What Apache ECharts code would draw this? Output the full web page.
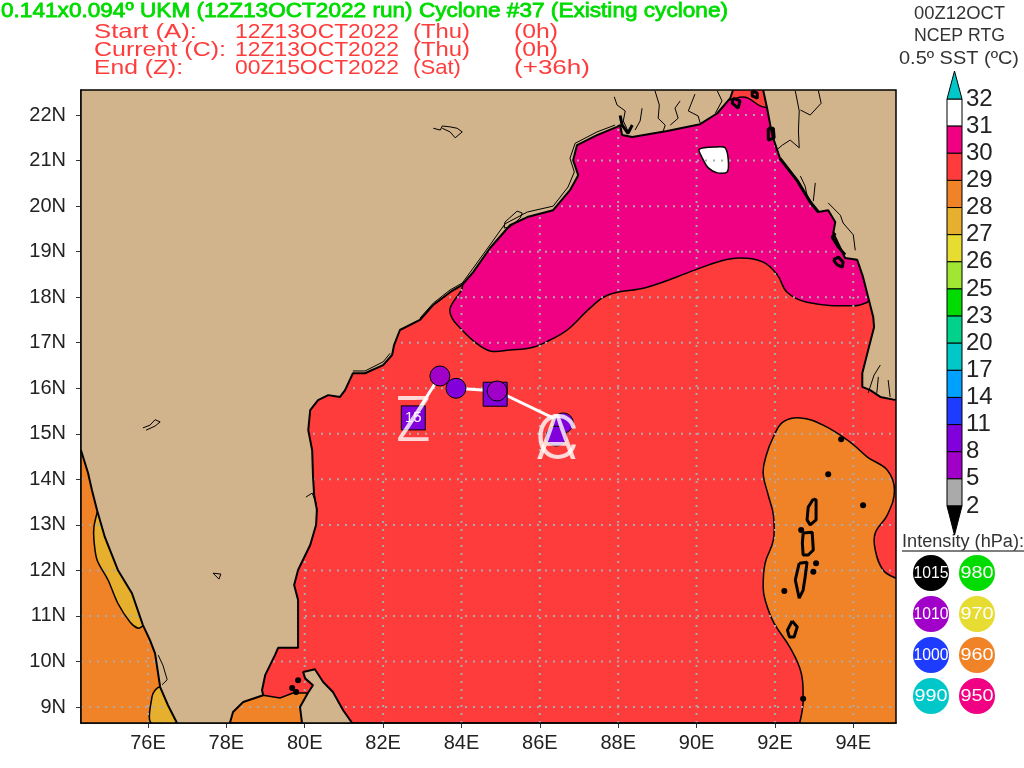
<!DOCTYPE html>
<html lang="en">
<head>
<meta charset="utf-8">
<title>Cyclone 37 UKM track over SST</title>
<script src="https://cdn.jsdelivr.net/npm/echarts@6/dist/echarts.min.js"></script>
<style>
  html, body { margin: 0; padding: 0; background: #fff; }
</style>
</head>
<body>
<div id="main" style="width:1024px;height:768px;"></div>
<script type="text/javascript">
// map axes
var lonMin = 74.29, lonMax = 95.09, latMin = 8.65, latMax = 22.55;
var lonTicks = [76, 78, 80, 82, 84, 86, 88, 90, 92, 94];
var latTicks = [9, 10, 11, 12, 13, 14, 15, 16, 17, 18, 19, 20, 21, 22];

// colour bar
var sstLabels = ['32', '31', '30', '29', '28', '27', '26', '25', '23', '20', '17', '14', '11', '8', '5', '2'];
var sstColors = ['#ffffff', '#f00082', '#ff3c3c', '#f08228', '#e6af2d', '#e6dc32', '#a0e632', '#00dc00',
                 '#00d28c', '#00c8c8', '#00a0ff', '#1e3cff', '#8200dc', '#a000c8', '#aaaaaa'];

// intensity legend
var legendLabels = ['1015', '1010', '1000', '990', '980', '970', '960', '950'];
var legendColors = ['#000000', '#a000c8', '#1e3cff', '#00c8c8', '#00dc00', '#e6dc32', '#f08228', '#f00082'];

// SST contour areas, [lon, lat]
var sst30 = [[84.02,18.27],[83.71,17.76],[83.76,17.54],[83.97,17.32],[84.35,17.01],[84.73,16.82],[85.24,16.84],
  [85.83,16.90],[86.26,17.06],[86.70,17.28],[87.28,17.76],[87.74,18.05],[88.74,18.22],[89.97,18.60],[90.60,18.79],
  [91.11,18.86],[91.70,18.77],[92.06,18.49],[92.31,18.11],[92.82,17.89],[94.00,17.81],[94.36,17.89],[94.43,17.98],
  [94.81,17.98],[94.81,22.15],[91.75,22.17],[91.24,22.39],[90.81,22.33],[90.09,22.33],[87.54,22.55],[84.22,20.13],[83.46,18.38]];
var sst31 = [[90.07,21.25],[90.53,21.30],[90.73,21.28],[90.81,21.01],[90.78,20.75],[90.53,20.73],[90.30,20.84],[90.15,21.05]];
var sst29East = [[92.72,8.0],[92.72,9.15],[92.67,9.75],[92.39,10.30],[91.96,10.87],[91.75,11.35],[91.70,11.63],[91.75,12.16],
  [91.96,12.67],[91.96,13.22],[91.83,13.65],[91.70,14.14],[91.78,14.53],[91.96,14.93],[92.21,15.26],[92.65,15.35],[93.23,15.19],
  [93.92,14.82],[94.36,14.49],[94.87,14.20],[95.05,13.76],[94.87,13.22],[94.56,12.82],[94.56,12.45],[94.76,12.01],[95.09,11.83],[96.2,11.5],[96.2,8.0]];
var sst29West = [[74.29,14.64],[74.78,14.64],[75.54,12.23],[76.69,10.03],[77.33,8.65],[74.29,8.65]];
var sst29Mannar = [[77.71,8.65],[77.97,9.15],[78.73,9.40],[78.94,9.26],[79.37,9.20],[79.70,9.31],[80.06,9.31],[80.26,8.65]];
var sst28West = [[74.70,13.26],[74.62,12.95],[74.62,12.67],[74.70,12.23],[74.98,11.79],[75.23,11.28],[75.54,10.87],[75.75,10.73],
  [75.87,10.78],[76.31,10.91],[75.28,13.10],[74.77,13.43]];
var sst28South = [[76.08,8.65],[76.10,9.22],[76.18,9.37],[76.31,9.44],[76.95,9.15],[76.95,8.65]];

// coastlines, [lon, lat]
var coastWest = [[74.29,14.64],[74.47,14.14],[74.57,13.76],[74.70,13.32],[74.90,12.73],[75.23,12.01],[75.59,11.50],[75.87,10.80],
  [76.05,10.47],[76.18,10.18],[76.31,9.44],[76.51,9.04],[76.74,8.65]];
var coastEastIndia = [[78.09,8.65],[78.17,8.89],[78.43,9.11],[78.94,9.26],[78.91,9.37],[78.99,9.70],[79.24,10.14],[79.32,10.30],
  [79.83,10.30],[79.83,11.35],[79.73,11.68],[79.83,12.01],[80.14,12.56],[80.29,13.00],[80.31,13.33],[80.24,13.66],[80.21,14.09],
  [80.19,14.64],[80.09,15.08],[80.14,15.52],[80.34,15.74],[80.60,15.85],[80.90,15.81],[81.03,15.96],[81.23,16.33],[81.54,16.33],
  [82.00,16.51],[82.23,16.73],[82.28,16.95],[82.43,17.28],[82.94,17.50],[83.28,17.83],[83.71,18.11],[84.02,18.27],[84.30,18.55],
  [84.73,19.08],[85.24,19.58],[85.68,19.76],[86.34,19.91],[86.77,20.35],[86.98,20.68],[86.85,21.01],[86.95,21.34],[87.46,21.56],
  [87.97,21.74],[88.05,21.78],[88.10,21.56],[88.36,21.52],[89.25,21.65],[90.09,21.80],[90.53,22.04],[90.86,22.37],[90.93,22.55]];
var coastMyanmar = [[91.70,22.55],[91.80,22.15],[91.93,21.56],[92.13,21.05],[92.57,20.56],[92.90,20.09],[93.11,19.87],[93.36,19.91],
  [93.54,19.65],[93.49,19.41],[93.79,18.86],[94.10,18.82],[94.25,18.44],[94.38,18.00],[94.51,17.56],[94.53,17.34],[94.38,16.84],
  [94.23,16.33],[94.23,16.03],[94.43,15.96],[94.69,15.81],[95.09,15.74]];
var sriLanka = [[79.93,8.65],[79.88,9.00],[80.08,9.31],[80.21,9.48],[80.01,9.63],[79.96,9.77],[80.26,9.83],[80.47,9.55],[80.72,9.33],
  [80.98,8.93],[81.21,8.65]];

// rivers, lakes and the second coast line, thin
var thinLines = [
  [[87.90,22.40],[87.97,22.22],[88.18,22.09],[88.13,21.87],[88.25,21.65]],
  [[88.61,22.15],[88.56,21.87],[88.43,21.67]],
  [[88.94,22.53],[89.05,22.22],[89.02,21.93],[89.20,21.78],[89.15,21.65]],
  [[89.58,22.31],[89.45,22.15],[89.53,21.93],[89.33,21.78]],
  [[89.96,22.46],[89.79,22.09],[90.04,21.98],[90.09,21.83]],
  [[90.53,22.53],[90.65,22.31],[90.48,22.04]],
  [[92.52,22.53],[92.62,22.09],[92.60,21.65],[92.62,21.28],[92.39,21.45],[92.19,21.34],[92.01,21.21]],
  [[93.11,22.53],[93.18,22.26],[92.90,22.00],[92.65,22.11]],
  [[92.65,20.66],[92.77,20.44],[92.82,20.24],[92.95,20.07]],
  [[93.03,20.51],[92.98,20.11]],
  [[93.36,20.07],[93.67,19.80],[93.74,19.63],[94.00,19.37],[94.05,19.03]],
  [[94.38,15.90],[94.53,16.29],[94.69,16.51]],
  [[94.64,16.25],[94.60,15.90]],
  [[94.89,16.18],[94.94,15.81]],
  [[85.42,19.89],[85.55,19.85],[85.50,19.74],[85.24,19.54],[85.09,19.52],[85.11,19.65],[85.42,19.89]],
  [[83.28,21.71],[83.46,21.67],[83.51,21.76],[83.71,21.74],[83.89,21.71],[84.02,21.63],[83.84,21.50],[83.71,21.63],[83.51,21.71]],
  [[77.66,11.94],[77.86,11.92],[77.81,11.81],[77.66,11.94]],
  [[75.87,15.13],[76.05,15.19],[76.18,15.31],[76.31,15.26],[76.18,15.17],[75.95,15.08]],
  [[80.03,13.61],[80.19,13.70],[80.29,13.48],[80.31,13.33]],
  [[76.26,10.14],[76.38,9.92],[76.49,9.60],[76.36,9.49]],
  [[82.94,17.54],[83.28,17.87],[83.71,18.16],[84.02,18.31],[84.30,18.64],[84.73,19.15],[85.11,19.61],[85.68,19.87],[86.34,20.00],
   [86.72,20.42],[86.88,20.75],[86.77,21.05],[86.90,21.38],[87.46,21.63],[87.92,21.78]],
  [[81.23,16.38],[81.54,16.38],[82.00,16.58],[82.18,16.77]]
];
// islands and delta blobs, heavy lines
var heavyLines = [
  [[92.98,13.57],[93.05,13.55],[93.05,13.11],[92.90,13.00],[92.82,13.11],[92.85,13.39],[92.98,13.57]],
  [[92.72,12.82],[92.95,12.84],[92.98,12.45],[92.85,12.34],[92.72,12.34],[92.70,12.60],[92.72,12.82]],
  [[92.62,12.16],[92.82,12.18],[92.77,11.85],[92.72,11.57],[92.62,11.39],[92.52,11.79],[92.62,12.16]],
  [[92.44,10.89],[92.57,10.76],[92.49,10.54],[92.37,10.54],[92.32,10.69],[92.44,10.89]],
  [[93.54,19.41],[93.46,19.32],[93.62,19.10],[93.79,18.93]],
  [[93.49,18.82],[93.62,18.88],[93.74,18.77],[93.72,18.66],[93.59,18.71],[93.49,18.82]],
  [[91.83,21.71],[91.96,21.71],[91.98,21.50],[91.83,21.45],[91.83,21.71]],
  [[90.93,22.37],[91.11,22.31],[91.06,22.15],[90.91,22.26],[90.93,22.37]],
  [[91.42,22.53],[91.55,22.48],[91.55,22.37],[91.42,22.42],[91.42,22.53]],
  [[88.05,21.99],[88.10,21.78],[88.25,21.60],[88.36,21.78]],
  [[92.13,21.05],[92.57,20.56],[92.90,20.09],[93.11,19.87]]
];
var islandLon = [92.67, 93.05, 92.98, 92.24, 93.69, 93.36, 94.25, 92.72, 79.83, 79.68, 79.78];
var islandLat = [12.89, 12.16, 11.97, 11.55, 14.88, 14.11, 13.43, 9.18, 9.59, 9.42, 9.33];

// cyclone track, oldest position last
var trackLon = [82.77, 83.45, 83.86, 84.91, 86.60, 86.42];
var trackLat = [15.35, 16.27, 16.00, 15.94, 15.24, 14.95];
var trackColors = ['#8200dc', '#a000c8', '#8200dc', '#a000c8', '#8200dc', '#8200dc'];
var squareLon = [82.77, 84.86];
var squareLat = [15.35, 15.87];
var squareLabels = ['15', ''];
var letterNames = ['C', 'A', 'Z'];
var letterLon = [86.44, 86.42, 82.77];
var letterLat = [14.85, 14.85, 15.26];

var thin = '"Liberation Sans"';
var chart = echarts.init(document.getElementById('main'));
var measure = document.createElement('canvas').getContext('2d');

// text squeezed or stretched to the width it has in the plot
function fitText(text, x, y, width, font, fill, stroke) {
    measure.font = font;
    return {
        type: 'text', x: x, y: y, z: 50, silent: true,
        scaleX: width / measure.measureText(text).width,
        style: {text: text, font: font, fill: fill, stroke: stroke || null, lineWidth: stroke ? 0.8 : 0,
                align: 'left', verticalAlign: 'middle'}
    };
}

function polygon(points, fill, lineWidth, z, smooth) {
    return {
        type: 'custom', z: z, clip: true, silent: true,
        data: [points[0]],
        renderItem: function (params, api) {
            return {
                type: 'polygon',
                shape: {points: points.map(function (p) { return api.coord(p); }), smooth: smooth || 0},
                style: {fill: fill, stroke: lineWidth ? '#000' : null, lineWidth: lineWidth}
            };
        }
    };
}

function line(points, width, color, z, dash) {
    return {
        type: 'line', z: z, silent: true, symbol: 'none', clip: true, data: points,
        lineStyle: {width: width, color: color, type: dash || 'solid', cap: 'butt'}
    };
}

function zipPoints(xs, ys) {
    return xs.map(function (x, i) { return [x, ys[i]]; });
}

var land = coastWest.concat(coastEastIndia, coastMyanmar, [[lonMax, latMax], [lonMin, latMax]]);
var series = [
    polygon(sst29West, '#f08228', 0, 1),
    polygon(sst29Mannar, '#f08228', 1.5, 1),
    polygon(sst28West, '#e6af2d', 1.5, 1, 0.3),
    polygon(sst28South, '#e6af2d', 1.5, 1, 0.3),
    polygon(sst29East, '#f08228', 1.5, 1, 0.4),
    polygon(sst30, '#f00082', 1.5, 1, 0.4),
    polygon(sst31, '#ffffff', 1.5, 1, 0.3)
];

// dotted graticule, under the land mask
lonTicks.forEach(function (lon) {
    series.push(line([[lon, latMin], [lon, latMax]], 2, '#aaaaaa', 2, [2, 6]));
});
latTicks.forEach(function (lat) {
    series.push(line([[lonMin, lat], [lonMax, lat]], 2, '#aaaaaa', 2, [2, 6]));
});

series.push(polygon(land, '#d2b48c', 0, 3));
series.push(polygon(sriLanka, '#d2b48c', 0, 3));
[coastWest, coastEastIndia, coastMyanmar, sriLanka].forEach(function (c) {
    series.push(line(c, 2, '#000', 4));
});
thinLines.forEach(function (c) { series.push(line(c, 1, '#000', 4)); });
heavyLines.forEach(function (c) { series.push(line(c, 3, '#000', 4)); });
series.push({
    type: 'scatter', z: 4, silent: true, symbolSize: 6,
    itemStyle: {color: '#000', opacity: 1},
    data: zipPoints(islandLon, islandLat)
});

// track and its markers
series.push(line(zipPoints(trackLon, trackLat), 3, '#fff', 5));
series.push({
    type: 'scatter', z: 6, silent: true, symbol: 'rect', symbolSize: 24,
    itemStyle: {color: '#8200dc', borderColor: '#000', borderWidth: 1, opacity: 1},
    label: {show: true, position: 'inside', color: '#fff', fontFamily: thin, fontSize: 15,
            formatter: function (p) { return squareLabels[p.dataIndex]; }},
    data: zipPoints(squareLon, squareLat)
});
series.push({
    type: 'scatter', z: 7, silent: true, symbolSize: 20,
    itemStyle: {borderColor: '#000', borderWidth: 1, opacity: 1,
                color: function (p) { return trackColors[p.dataIndex]; }},
    data: zipPoints(trackLon, trackLat).map(function (p, i) { return i === 0 ? {value: p, itemStyle: {opacity: 0, borderWidth: 0}} : p; })
});
series.push({
    type: 'scatter', z: 8, silent: true, symbolSize: 1,
    itemStyle: {color: 'rgba(0,0,0,0)'},
    label: {show: true, position: 'inside', color: '#fff', fontFamily: 'Inter, Roboto', fontWeight: 300, fontSize: 62,
            formatter: function (p) { return letterNames[p.dataIndex]; }},
    data: zipPoints(letterLon, letterLat)
});

// colour bar, one band per level gap
series.push({
    type: 'custom', xAxisIndex: 1, yAxisIndex: 1, z: 3, silent: true,
    data: sstColors.map(function (c, i) { return [0, i]; }),
    renderItem: function (params, api) {
        var i = api.value(1);
        var a = api.coord([0, i]), b = api.coord([1, i + 1]);
        return {
            type: 'rect',
            shape: {x: a[0], y: a[1], width: b[0] - a[0], height: b[1] - a[1]},
            style: {fill: sstColors[i], stroke: '#000', lineWidth: 1}
        };
    }
});

var red = '#ff3c3c', redFont = '21px ' + thin, greyFont = '18px ' + thin;
var graphics = [
    fitText('0.141x0.094\u00ba UKM (12Z13OCT2022 run) Cyclone #37 (Existing cyclone)', 1, 11, 727, '21px ' + thin, '#00dc00', '#00dc00'),
    fitText('Start (A):', 94, 32, 103, redFont, red),
    fitText('Current (C):', 94, 50, 132, redFont, red),
    fitText('End (Z):', 94, 68, 89, redFont, red),
    fitText('12Z13OCT2022', 235, 32, 164, redFont, red),
    fitText('12Z13OCT2022', 235, 50, 164, redFont, red),
    fitText('00Z15OCT2022', 235, 68, 164, redFont, red),
    fitText('(Thu)', 413, 32, 57, redFont, red),
    fitText('(Thu)', 413, 50, 57, redFont, red),
    fitText('(Sat)', 413, 68, 48, redFont, red),
    fitText('(0h)', 514, 32, 44, redFont, red),
    fitText('(0h)', 514, 50, 44, redFont, red),
    fitText('(+36h)', 514, 68, 76, redFont, red),
    fitText('00Z12OCT', 914, 14, 91, greyFont, '#333'),
    fitText('NCEP RTG', 914, 36, 91, greyFont, '#333'),
    fitText('0.5\u00ba SST (\u00baC)', 899, 59, 120, greyFont, '#333'),
    fitText('Intensity (hPa):', 902, 542, 122, greyFont, '#333'),
    {type: 'line', z: 50, silent: true, shape: {x1: 902, y1: 551, x2: 1024, y2: 551}, style: {stroke: '#555', lineWidth: 1.5}},
    // colour bar end arrows
    {type: 'polygon', z: 50, silent: true, shape: {points: [[954.5, 71], [947, 99], [962, 99]]},
     style: {fill: '#00c8c8', stroke: '#000', lineWidth: 1}},
    {type: 'polygon', z: 50, silent: true, shape: {points: [[947, 506], [962, 506], [954.5, 535]]},
     style: {fill: '#000', stroke: '#000', lineWidth: 1}},
    // plot frame on top of the map
    {type: 'rect', z: 50, silent: true, shape: {x: 81, y: 90, width: 815, height: 633},
     style: {fill: null, stroke: '#000', lineWidth: 1.5}}
];

legendLabels.forEach(function (label, i) {
    var cx = i < 4 ? 931 : 977;
    var cy = 573 + (i % 4) * 41;
    var w = label.length === 4 ? 35 : 33;
    graphics.push({type: 'circle', z: 50, silent: true, shape: {cx: cx, cy: cy, r: 18}, style: {fill: legendColors[i]}});
    graphics.push(fitText(label, cx - w / 2, cy, w, '17px ' + thin, '#fff'));
});

chart.setOption({
    animation: false,
    backgroundColor: '#fff',
    tooltip: {show: false},
    grid: [
        {left: 81, top: 90, width: 815, height: 633, show: true, backgroundColor: '#ff3c3c', borderWidth: 0},
        {left: 947, top: 99, width: 15, height: 407}
    ],
    xAxis: [
        {
            type: 'value', gridIndex: 0, min: lonMin, max: lonMax, splitLine: {show: false},
            axisLine: {lineStyle: {color: '#000', width: 1.5}},
            axisTick: {length: 5, customValues: lonTicks, lineStyle: {color: '#333'}},
            axisLabel: {customValues: lonTicks, margin: 10, color: '#222', fontFamily: thin, fontSize: 20,
                        formatter: function (v) { return v + 'E'; }}
        },
        {type: 'value', gridIndex: 1, min: 0, max: 1, show: false}
    ],
    yAxis: [
        {
            type: 'value', gridIndex: 0, min: latMin, max: latMax, splitLine: {show: false},
            axisLine: {lineStyle: {color: '#000', width: 1.5}},
            axisTick: {length: 5, customValues: latTicks, lineStyle: {color: '#333'}},
            axisLabel: {customValues: latTicks, margin: 15, color: '#222', fontFamily: thin, fontSize: 20,
                        formatter: function (v) { return v + 'N'; }}
        },
        {
            type: 'value', gridIndex: 1, min: 0, max: 15, interval: 1, inverse: true, position: 'right',
            splitLine: {show: false}, axisLine: {show: false}, axisTick: {show: false},
            axisLabel: {margin: 4, color: '#222', fontFamily: thin, fontSize: 24,
                        formatter: function (v) { return sstLabels[v]; }}
        }
    ],
    graphic: graphics,
    series: series
});
</script>
</body>
</html>
